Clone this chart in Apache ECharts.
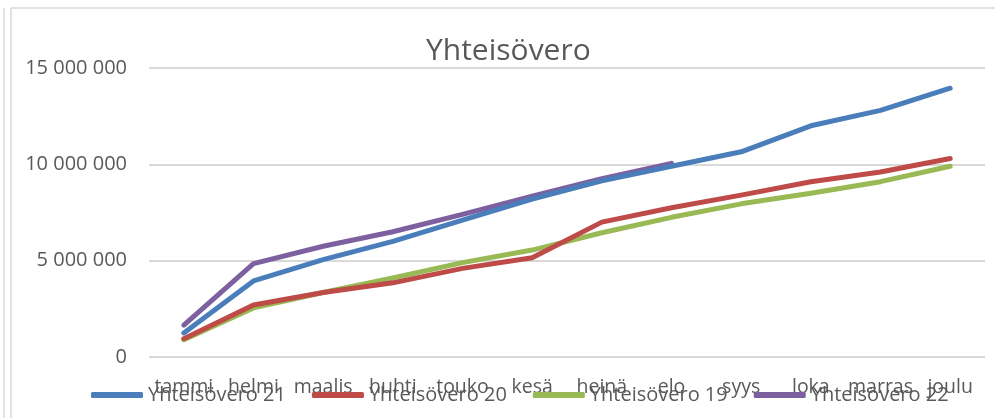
<!DOCTYPE html>
<html>
<head>
<meta charset="utf-8">
<script src="https://cdn.jsdelivr.net/npm/echarts@6/dist/echarts.min.js"></script>
<style>
html,body{margin:0;padding:0;background:#fff;}
#c{width:995px;height:418px;}
</style>
</head>
<body>
<div id="c"></div>
<script>
const categories = ['tammi','helmi','maalis','huhti','touko','kesä','heinä','elo','syys','loka','marras','joulu'];
const seriesNames = ['Yhteisövero 21','Yhteisövero 20','Yhteisövero 19','Yhteisövero 22'];
const vero21 = [1250000, 3950000, 5050000, 6000000, 7100000, 8200000, 9150000, 9900000, 10650000, 12000000, 12800000, 13950000];
const vero20 = [950000, 2700000, 3350000, 3850000, 4600000, 5150000, 7000000, 7750000, 8400000, 9100000, 9600000, 10300000];
const vero19 = [900000, 2550000, 3350000, 4100000, 4900000, 5550000, 6450000, 7250000, 7950000, 8500000, 9100000, 9900000];
const vero22 = [1650000, 4850000, 5750000, 6500000, 7400000, 8350000, 9250000, 10050000];
const yTicks = [0, 5000000, 10000000, 15000000];

const colors = ['#4a7ebb', '#be4b48', '#98b954', '#7d60a0'];
const font = '"Open Sans", sans-serif';
const chart = echarts.init(document.getElementById('c'));
const fmt = v => String(v).replace(/\B(?=(\d{3})+(?!\d))/g, ' ');
const dataSets = [vero21, vero20, vero19, vero22];

chart.setOption({
  animation: false,
  color: colors,
  title: {
    text: 'Yhteisövero',
    left: 421,
    top: 31,
    textStyle: {fontFamily: font, fontSize: 30, fontWeight: 'normal', color: '#595959'}
  },
  graphic: [
    {type: 'line', shape: {x1: 4, y1: 8, x2: 4, y2: 418}, style: {stroke: '#d9d9d9', lineWidth: 1.5}},
    {type: 'line', shape: {x1: 11, y1: 8, x2: 11, y2: 418}, style: {stroke: '#d9d9d9', lineWidth: 1.5}},
    {type: 'line', shape: {x1: 11, y1: 8, x2: 995, y2: 8}, style: {stroke: '#d9d9d9', lineWidth: 1.5}}
  ],
  grid: {left: 149, right: 10, top: 68, bottom: 61},
  legend: {
    left: 86,
    top: 380,
    itemWidth: 52,
    itemHeight: 6,
    itemGap: 26,
    icon: 'roundRect',
    textStyle: {fontFamily: font, fontSize: 20, color: '#595959', padding: [4,0,0,0]},
    data: seriesNames
  },
  xAxis: {
    type: 'category',
    data: categories,
    boundaryGap: true,
    axisLine: {show: false},
    axisTick: {show: false},
    axisLabel: {fontFamily: font, fontSize: 19.5, color: '#595959', margin: 20, interval: 0}
  },
  yAxis: {
    type: 'value',
    min: yTicks[0],
    max: yTicks[yTicks.length - 1],
    interval: yTicks[1] - yTicks[0],
    axisLabel: {fontFamily: font, fontSize: 20, color: '#595959', margin: 22, formatter: fmt},
    splitLine: {lineStyle: {color: '#d9d9d9', width: 2}},
    axisLine: {show: false},
    axisTick: {show: false}
  },
  series: seriesNames.map((n, i) => ({
    name: n,
    type: 'line',
    data: dataSets[i],
    showSymbol: false,
    symbol: 'none',
    lineStyle: {width: 5, cap: 'round', join: 'round'},
    z: i === 3 ? 1 : 2 + (3 - i)
  }))
});
</script>
</body>
</html>
